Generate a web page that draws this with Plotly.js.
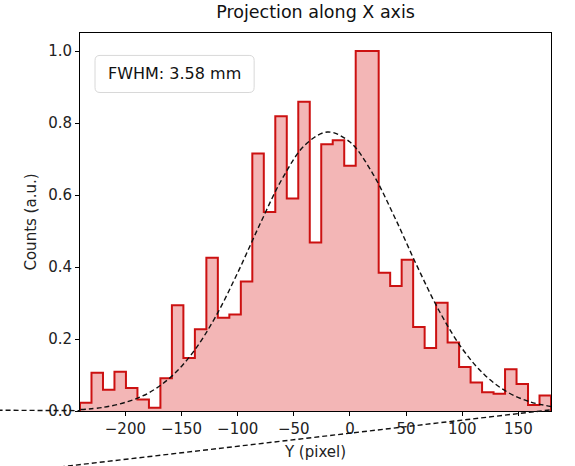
<!DOCTYPE html>
<html>
<head>
<meta charset="utf-8">
<script src="https://cdn.plot.ly/plotly-3.0.1.min.js"></script>
<style>
  html, body { margin: 0; padding: 0; background: #ffffff; }
  #chart { width: 575px; height: 466px; }
</style>
</head>
<body>
<div id="chart"></div>
<script>
// ---- Data ----
const chartTitle = "Projection along X axis";
const xLabel = "Y (pixel)";
const yLabel = "Counts (a.u.)";
const fwhmText = "FWHM: 3.58 mm";

// histogram: 41 bins
const binStart = -240.4;
const binWidth = 10.23;
const binCounts = [
  0.023, 0.106, 0.059, 0.109, 0.064, 0.032, 0.009, 0.091, 0.294, 0.147,
  0.227, 0.426, 0.259, 0.268, 0.360, 0.715, 0.553, 0.819, 0.590, 0.859,
  0.468, 0.741, 0.752, 0.681, 1.000, 1.000, 0.384, 0.347, 0.420, 0.233,
  0.175, 0.301, 0.190, 0.122, 0.079, 0.052, 0.048, 0.116, 0.075, 0.017,
  0.043
];

const fitX = [-240, -220, -200, -180, -160, -140, -120, -100, -80, -60, -40, -20, 0, 20, 40, 60, 80, 100, 120, 140, 160, 180];
const fitY = [0.004, 0.010, 0.024, 0.049, 0.093, 0.162, 0.260, 0.384, 0.520, 0.647, 0.739, 0.775, 0.747, 0.661, 0.537, 0.401, 0.275, 0.173, 0.100, 0.053, 0.026, 0.012];

const xTicks = [-200, -150, -100, -50, 0, 50, 100, 150];
const yTicks = [0.0, 0.2, 0.4, 0.6, 0.8, 1.0];

// ---- Build step outline from bins ----
const nBins = binCounts.length;
const binEdges = [];
for (let i = 0; i <= nBins; i++) binEdges.push(binStart + i * binWidth);
const stepX = [binEdges[0]].concat(binEdges.slice(0, nBins), [binEdges[nBins], binEdges[nBins]]);
const stepY = [0].concat(binCounts, [binCounts[nBins - 1], 0]);

const FONT = "DejaVu Sans, sans-serif";

const traces = [
  {
    type: "scatter", mode: "lines",
    x: stepX, y: stepY,
    line: { shape: "hv", color: "#cc1111", width: 2 },
    fill: "tozeroy", fillcolor: "rgba(220,40,40,0.34)",
    hoverinfo: "skip", showlegend: false
  },
  {
    type: "scatter", mode: "lines",
    x: fitX, y: fitY,
    line: { shape: "spline", color: "#111111", width: 1.4, dash: "5px,3px" },
    hoverinfo: "skip", showlegend: false
  }
];

// rounded box for FWHM label (paper coords)
const bx0 = 0.0319, bx1 = 0.3697, by0 = 0.8426, by1 = 0.9407, rx = 0.0106, ry = 0.0133;
const boxPath = `M ${bx0+rx},${by0} L ${bx1-rx},${by0} Q ${bx1},${by0} ${bx1},${by0+ry} L ${bx1},${by1-ry} Q ${bx1},${by1} ${bx1-rx},${by1} L ${bx0+rx},${by1} Q ${bx0},${by1} ${bx0},${by1-ry} L ${bx0},${by0+ry} Q ${bx0},${by0} ${bx0+rx},${by0} Z`;

const layout = {
  width: 575, height: 466,
  margin: { l: 80, r: 24, t: 33, b: 55, pad: 0 },
  paper_bgcolor: "#ffffff", plot_bgcolor: "#ffffff",
  font: { family: FONT, size: 15, color: "#222222" },
  title: {
    text: chartTitle,
    font: { family: FONT, size: 17.5, color: "#111111" },
    x: 0.5488, xanchor: "center", xref: "container",
    y: 0.974, yanchor: "middle", yref: "container"
  },
  xaxis: {
    range: [binStart, binStart + nBins * binWidth],
    tickmode: "array", tickvals: xTicks,
    ticks: "outside", ticklen: 4, tickwidth: 1, tickcolor: "#000",
    showline: true, mirror: true, linecolor: "#000", linewidth: 1,
    showgrid: false, zeroline: false,
    tickfont: { family: FONT, size: 15, color: "#222" },
    title: { text: xLabel, font: { family: FONT, size: 15, color: "#222" }, standoff: 9 }
  },
  yaxis: {
    range: [0, 1.05],
    tickmode: "array", tickvals: yTicks, tickformat: ".1f",
    ticks: "outside", ticklen: 4, tickwidth: 1, tickcolor: "#000",
    showline: true, mirror: true, linecolor: "#000", linewidth: 1,
    showgrid: false, zeroline: false,
    tickfont: { family: FONT, size: 15, color: "#222" },
    title: { text: yLabel, font: { family: FONT, size: 15, color: "#222" }, standoff: 7 }
  },
  shapes: [
    { type: "path", xref: "paper", yref: "paper", path: boxPath,
      fillcolor: "rgba(255,255,255,0.85)", line: { color: "#d8d8d8", width: 1 }, layer: "above" },
    { type: "line", xref: "paper", yref: "paper", x0: -0.175, y0: 0.002, x1: 0, y1: 0.001,
      line: { color: "#111", width: 1.4, dash: "5px,3px" }, layer: "above" },
    { type: "line", xref: "paper", yref: "paper", x0: -0.0425, y0: -0.148, x1: 1.0, y1: 0.0032,
      line: { color: "#111", width: 1.4, dash: "5px,3px" }, layer: "above" }
  ],
  annotations: [
    { text: fwhmText, xref: "paper", yref: "paper", x: 0.2008, y: 0.892,
      xanchor: "center", yanchor: "middle", showarrow: false,
      font: { family: FONT, size: 16, color: "#111" } }
  ]
};

Plotly.newPlot("chart", traces, layout, { displayModeBar: false, staticPlot: true });
</script>
</body>
</html>
